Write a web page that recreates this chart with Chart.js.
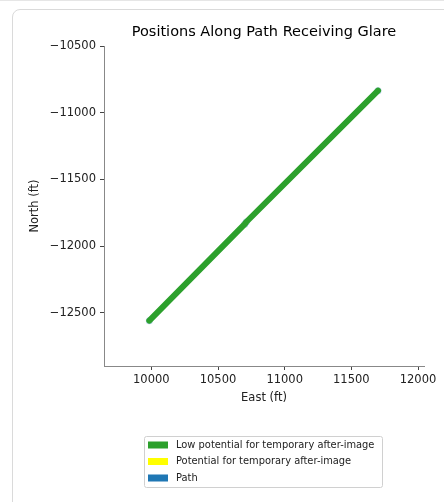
<!DOCTYPE html>
<html>
<head>
<meta charset="utf-8">
<script src="https://cdn.jsdelivr.net/npm/chart.js@4"></script>
<style>
  html, body { margin: 0; padding: 0; background: #fff; }
  #wrap { position: relative; width: 444px; height: 502px; overflow: hidden; }
  #topline { position: absolute; left: 0; top: 0; width: 444px; height: 1px; background: #e6e6e6; }
  #card { position: absolute; left: 12px; top: 9px; width: 520px; height: 600px;
          border: 1.5px solid #dadada; border-radius: 8px; box-sizing: border-box; }
  #graficoGlare { position: absolute; left: 0; top: 0; }
</style>
</head>
<body>
<div id="wrap">
  <div id="topline"></div>
  <div id="card"></div>
  <canvas id="graficoGlare" width="444" height="502"></canvas>
</div>
<script>
// datos (pies)
const pathEast = [9985, 10700, 10712, 11700];
const pathNorth = [-12560, -11836, -11820, -10835];
const lowEast = [9985, 10700, 10712, 11700];
const lowNorth = [-12560, -11836, -11820, -10835];
const xTicks = [10000, 10500, 11000, 11500, 12000];
const yTicks = [-12500, -12000, -11500, -11000, -10500];
const legendLabels = ["Low potential for temporary after-image", "Potential for temporary after-image", "Path"];

const toPts = (xs, ys) => xs.map((x, i) => ({ x: x, y: ys[i] }));
const fmt = (v) => String(v).replace("-", "\u2212");

// leyenda con caja, estilo matplotlib
const legendBox = {
  id: "legendBox",
  afterDraw(chart) {
    const ctx = chart.ctx;
    const items = [
      { label: legendLabels[0], color: "#2ca02c" },
      { label: legendLabels[1], color: "#ffff00" },
      { label: legendLabels[2], color: "#1f77b4" },
    ];
    ctx.save();
    ctx.fillStyle = "#fff";
    ctx.strokeStyle = "#d0d0d0";
    ctx.lineWidth = 1;
    ctx.beginPath();
    ctx.roundRect(144.5, 436.5, 238, 51, 2);
    ctx.fill();
    ctx.stroke();
    ctx.font = "9.9px 'DejaVu Sans'";
    ctx.textBaseline = "middle";
    items.forEach((it, i) => {
      const yc = 445 + i * 16.5;
      ctx.fillStyle = it.color;
      ctx.fillRect(148, yc - 3.5, 20, 7);
      ctx.fillStyle = "#222";
      ctx.fillText(it.label, 176, yc);
    });
    ctx.restore();
  },
};

const ctx = document.getElementById("graficoGlare").getContext("2d");
const graficoGlare = new Chart(ctx, {
  type: "line",
  data: {
    datasets: [
      {
        label: legendLabels[0],
        data: toPts(lowEast, lowNorth),
        borderColor: "#2ca02c",
        backgroundColor: "#2ca02c",
        borderWidth: 6,
        borderCapStyle: "round",
        borderJoinStyle: "round",
        pointRadius: 0,
        order: 1,
      },
      {
        label: legendLabels[1],
        data: [],
        borderColor: "#ffff00",
        backgroundColor: "#ffff00",
        pointRadius: 0,
        order: 2,
      },
      {
        label: legendLabels[2],
        data: toPts(pathEast, pathNorth),
        borderColor: "rgba(31,119,180,0.6)",
        backgroundColor: "rgba(31,119,180,0.35)",
        borderWidth: 2,
        pointRadius: 3.5,
        pointBorderWidth: 0,
        order: 3,
      },
    ],
  },
  options: {
    responsive: false,
    animation: false,
    layout: { padding: { left: 0, right: 20, top: 0, bottom: 91 } },
    plugins: {
      legend: { display: false },
      tooltip: { enabled: false },
      title: {
        display: true,
        fullSize: false,
        text: "Positions Along Path Receiving Glare",
        color: "#000",
        font: { family: "DejaVu Sans", size: 14.5, weight: "normal" },
        padding: { top: 24, bottom: 4.6 },
      },
    },
    scales: {
      x: {
        type: "linear",
        min: 9645,
        max: 12045,
        afterBuildTicks: (s) => { s.ticks = xTicks.map((v) => ({ value: v })); },
        afterFit: (s) => { s.height = 45; },
        ticks: {
          callback: (v) => fmt(v),
          color: "#222",
          font: { family: "DejaVu Sans", size: 11.5 },
          padding: 3,
          maxRotation: 0,
        },
        grid: { drawOnChartArea: false, drawTicks: true, tickLength: 4, tickColor: "#444" },
        border: { color: "#888", width: 1 },
        title: {
          display: true,
          text: "East (ft)",
          color: "#222",
          font: { family: "DejaVu Sans", size: 11.5 },
          padding: { top: 0, bottom: 6 },
        },
      },
      y: {
        type: "linear",
        min: -12900,
        max: -10500,
        afterBuildTicks: (s) => { s.ticks = yTicks.map((v) => ({ value: v })); },
        afterFit: (s) => { s.width = 104; },
        ticks: {
          callback: (v) => fmt(v),
          color: "#222",
          font: { family: "DejaVu Sans", size: 11.5 },
          padding: 4,
        },
        grid: { drawOnChartArea: false, drawTicks: true, tickLength: 4, tickColor: "#444" },
        border: { color: "#888", width: 1 },
        title: {
          display: true,
          text: "North (ft)",
          color: "#222",
          font: { family: "DejaVu Sans", size: 11.5 },
          padding: { top: 28, bottom: 0 },
        },
      },
    },
  },
  plugins: [legendBox],
});
</script>
</body>
</html>
